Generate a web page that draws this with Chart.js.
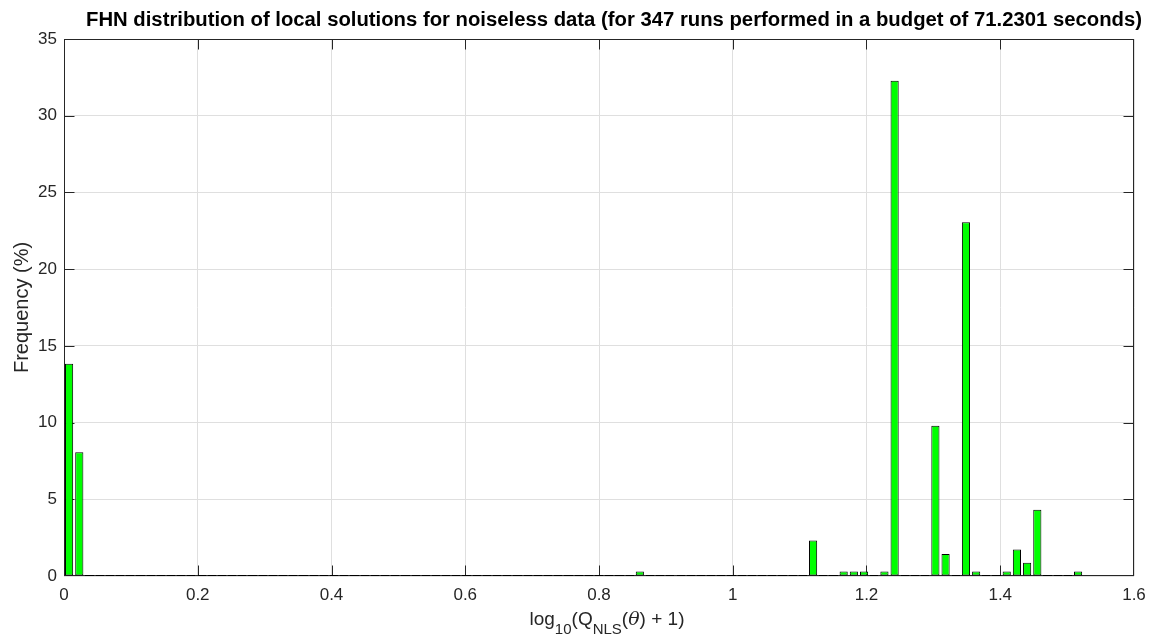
<!DOCTYPE html>
<html>
<head>
<meta charset="utf-8">
<script src="https://cdn.jsdelivr.net/npm/chart.js@4"></script>
<style>
  body { margin: 0; background: #fff; }
  #chart { width: 1156px; height: 643px; }
</style>
</head>
<body>
<div id="chart"><canvas id="hist" width="1156" height="643"></canvas></div>
<script>
// histogram of log10(Q_NLS + 1): 100 bins of equal width starting at 0
const binWidth = 0.01524;
const binCount = 100;
// bins that received runs, and their share of the 347 runs (%)
const binIndex = [0, 1, 56, 73, 76, 77, 78, 80, 81, 85, 86, 88, 89, 92, 93, 94, 95, 99];
const frequency = [13.83, 8.07, 0.29, 2.31, 0.29, 0.29, 0.29, 0.29, 32.28, 9.80, 1.44, 23.05, 0.29, 0.29, 1.73, 0.86, 4.32, 0.29];

const titleText = "FHN distribution of local solutions for noiseless data (for 347 runs performed in a budget of 71.2301 seconds)";
const axisColor = "#262626";
const fontFamily = "'Liberation Sans', Arial, sans-serif";
const barFraction = 0.8;

const points = binIndex.map((b, i) => ({ x: (b + 0.5) * binWidth, y: frequency[i] }));

// axes box, inward ticks, titles and the edges of empty bins
const matlabAxes = {
  id: "matlabAxes",
  beforeDatasetsDraw(chart) {
    const { ctx, chartArea: a, scales } = chart;
    const L = Math.round(a.left) + 0.5, R = Math.round(a.right) - 0.5;
    const T = Math.round(a.top) + 0.5, B = Math.round(a.bottom) - 0.5;
    const clamp = (v, lo, hi) => Math.min(hi, Math.max(lo, v));
    ctx.save();
    ctx.strokeStyle = axisColor;
    ctx.lineWidth = 1;
    ctx.strokeRect(L, T, R - L, B - T);
    const tl = 10;
    ctx.beginPath();
    scales.x.ticks.forEach((t) => {
      const px = clamp(Math.round(scales.x.getPixelForValue(t.value)) + 0.5, L, R);
      ctx.moveTo(px, B); ctx.lineTo(px, B - tl);
      ctx.moveTo(px, T); ctx.lineTo(px, T + tl);
    });
    scales.y.ticks.forEach((t) => {
      const py = clamp(Math.round(scales.y.getPixelForValue(t.value)) + 0.5, T, B);
      ctx.moveTo(L, py); ctx.lineTo(L + tl, py);
      ctx.moveTo(R, py); ctx.lineTo(R - tl, py);
    });
    ctx.stroke();
    ctx.restore();
  },
  afterDatasetsDraw(chart) {
    // empty bins still show their bar outline flat on the baseline
    const { ctx, scales } = chart;
    const y0 = Math.round(scales.y.getPixelForValue(0)) - 0.5;
    ctx.save();
    ctx.strokeStyle = "#000";
    ctx.lineWidth = 1;
    ctx.beginPath();
    for (let b = 0; b < binCount; b++) {
      if (binIndex.includes(b)) continue;
      const c = (b + 0.5) * binWidth;
      const x1 = Math.round(scales.x.getPixelForValue(c - binWidth * barFraction / 2));
      const x2 = Math.round(scales.x.getPixelForValue(c + binWidth * barFraction / 2));
      ctx.moveTo(x1, y0); ctx.lineTo(x2, y0);
    }
    ctx.stroke();
    ctx.restore();
  },
  afterDraw(chart) {
    const { ctx, chartArea: a } = chart;
    ctx.save();
    ctx.fillStyle = "#000";
    ctx.textAlign = "center";
    ctx.textBaseline = "alphabetic";
    ctx.font = "bold 20.3px " + fontFamily;
    ctx.fillText(titleText, 614, 26);

    // y label
    ctx.fillStyle = axisColor;
    ctx.font = "20px " + fontFamily;
    ctx.save();
    ctx.translate(28, (a.top + a.bottom) / 2);
    ctx.rotate(-Math.PI / 2);
    ctx.fillText("Frequency (%)", 0, 0);
    ctx.restore();

    // x label with subscripts: log10(Q_NLS(θ) + 1)
    const main = "19px " + fontFamily;
    const sub = "15px " + fontFamily;
    const ital = "italic 19px 'DejaVu Serif', 'Liberation Serif', serif";
    const parts = [
      ["log", main, 0], ["10", sub, 9], ["(Q", main, 0], ["NLS", sub, 9],
      ["(", main, 0], ["\u03B8", ital, 0], [") + 1)", main, 0]
    ];
    let total = 0;
    parts.forEach((p) => { ctx.font = p[1]; total += ctx.measureText(p[0]).width; });
    let x = 607 - total / 2;
    const base = 625;
    ctx.textAlign = "left";
    parts.forEach((p) => {
      ctx.font = p[1];
      ctx.fillText(p[0], x, base + p[2]);
      x += ctx.measureText(p[0]).width;
    });
    ctx.restore();
  }
};

new Chart(document.getElementById("hist"), {
  type: "bar",
  data: {
    datasets: [{
      data: points,
      backgroundColor: "#00ff00",
      borderColor: "#000000",
      borderWidth: 1,
      borderSkipped: false,
      barPercentage: barFraction,
      categoryPercentage: 1.0,
    }],
  },
  options: {
    responsive: false,
    animation: false,
    layout: { padding: { left: 0, right: 22, top: 39, bottom: 0 } },
    plugins: { legend: { display: false }, title: { display: false }, tooltip: { enabled: false } },
    scales: {
      x: {
        type: "linear",
        min: 0,
        max: 1.6,
        offset: false,
        afterFit: (s) => { s.height = 67; },
        border: { display: false },
        grid: { color: "#dfdfdf", drawTicks: false, offset: false },
        ticks: {
          stepSize: 0.2,
          autoSkip: false,
          maxRotation: 0,
          padding: 9,
          color: axisColor,
          font: { family: fontFamily, size: 17 },
          callback: (v) => String(+v.toFixed(2)),
        },
      },
      y: {
        min: 0,
        max: 35,
        afterFit: (s) => { s.width = 64; },
        border: { display: false },
        grid: { color: "#dfdfdf", drawTicks: false },
        ticks: {
          stepSize: 5,
          padding: 7,
          color: axisColor,
          font: { family: fontFamily, size: 17 },
        },
      },
    },
  },
  plugins: [matlabAxes],
});
</script>
</body>
</html>
